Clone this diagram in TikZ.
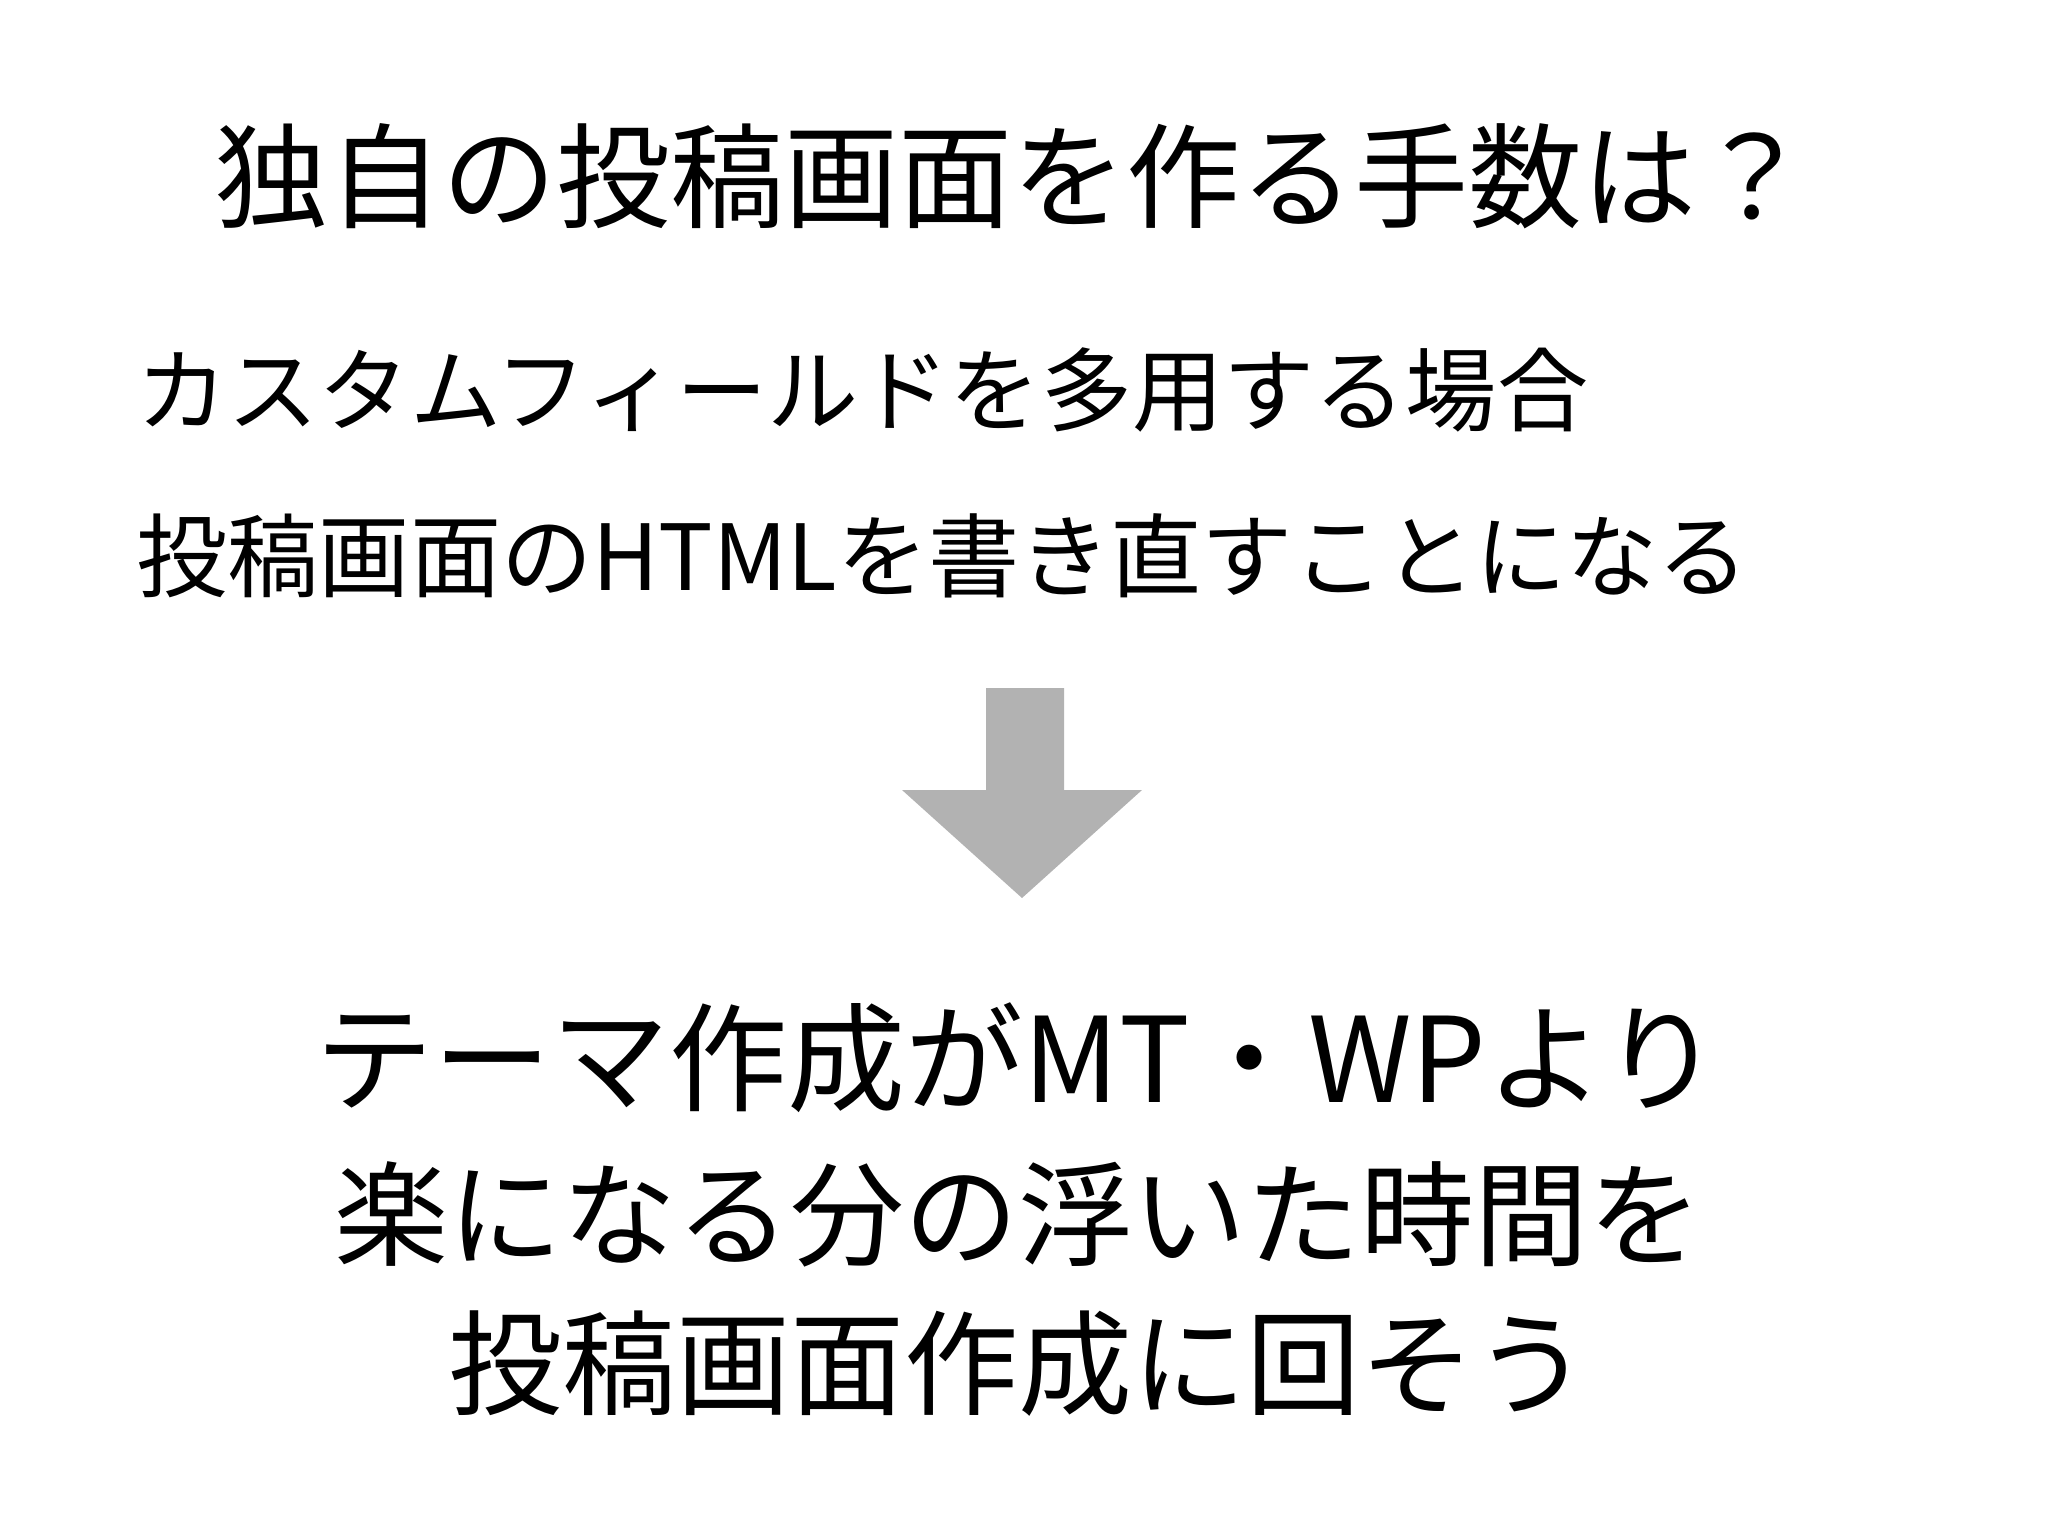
\documentclass[tikz,border=0pt]{standalone}
\usepackage{fontspec}
\setmainfont{Noto Sans CJK JP}
\begin{document}
\begin{tikzpicture}[x=1pt,y=1pt,
  big/.style={font=\fontsize{57}{60}\selectfont,inner sep=0pt},
  mid/.style={font=\fontsize{45.6}{50}\selectfont,inner sep=0pt,anchor=west}]
\useasboundingbox (0,0) rectangle (1024,-767.5);
\node[big] (title) at (506,-88) {独自の投稿画面を作る手数は？};
\node[mid] (l1) at (68,-195) {カスタムフィールドを多用する場合};
\node[mid] (l2) at (68,-278) {投稿画面のHTMLを書き直すことになる};
\fill[gray!60] (493,-344) -- (532,-344) -- (532,-395) -- (571,-395) -- (511,-449) -- (451,-395) -- (493,-395) -- cycle;
\node[big,font=\fontsize{59}{60}\selectfont] (b1) at (509,-529) {テーマ作成がMT・WPより};
\node[big] (b2) at (509,-607) {楽になる分の浮いた時間を};
\node[big] (b3) at (509,-682) {投稿画面作成に回そう};
\end{tikzpicture}
\end{document}
